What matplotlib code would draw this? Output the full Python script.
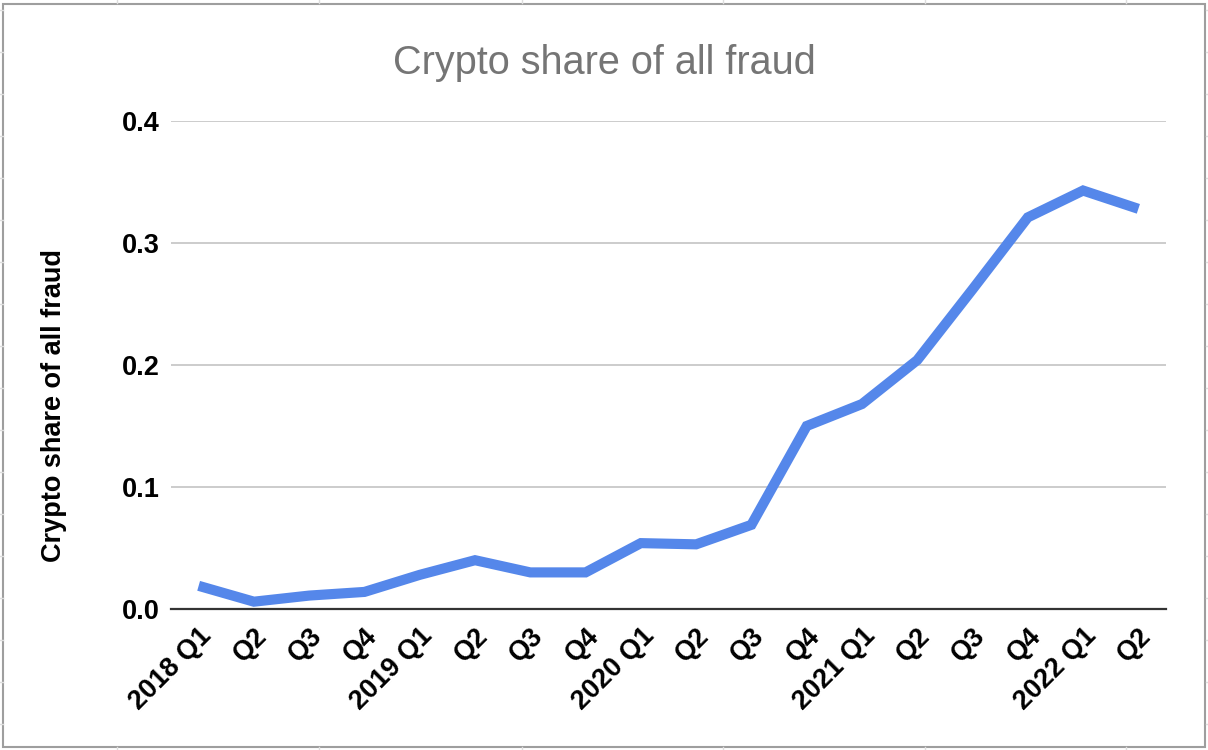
import numpy as np
import matplotlib.pyplot as plt
from matplotlib.patches import Rectangle
from matplotlib.lines import Line2D

plt.rcParams['font.family'] = ['Liberation Sans', 'DejaVu Sans']

quarters = ["2018 Q1", "Q2", "Q3", "Q4",
            "2019 Q1", "Q2", "Q3", "Q4",
            "2020 Q1", "Q2", "Q3", "Q4",
            "2021 Q1", "Q2", "Q3", "Q4",
            "2022 Q1", "Q2"]
crypto_share = [0.019, 0.006, 0.011, 0.014,
                0.028, 0.040, 0.030, 0.030,
                0.054, 0.053, 0.069, 0.150,
                0.168, 0.204, 0.262, 0.321,
                0.343, 0.328]
y_ticks = [0.0, 0.1, 0.2, 0.3, 0.4]

W, H = 1208, 750
fig = plt.figure(figsize=(W / 100, H / 100), dpi=100)
ax = fig.add_axes([171 / W, 1 - 609 / H, 995 / W, 488 / H])

x = np.arange(len(quarters))
ax.plot(x, crypto_share, color='#5587ea', lw=7.3, solid_joinstyle='miter',
        solid_capstyle='butt', zorder=3)

ax.set_xlim(-0.5, len(quarters) - 0.5)
ax.set_ylim(0, 0.4)
ax.set_yticks(y_ticks)
ax.set_yticklabels([f"{v:.1f}" for v in y_ticks], fontsize=19.5, fontweight='bold')
ax.set_xticks(x)
ax.set_xticklabels(quarters, fontsize=19.5, fontweight='bold', rotation=45,
                   ha='right', va='top', rotation_mode='anchor')
ax.tick_params(axis='both', length=0)
ax.tick_params(axis='y', pad=8)
ax.tick_params(axis='x', pad=10)

ax.yaxis.grid(True, color='#cccccc', lw=1.4)
ax.set_axisbelow(True)
for s in ['top', 'right', 'left']:
    ax.spines[s].set_visible(False)
ax.spines['bottom'].set_color('#333333')
ax.spines['bottom'].set_linewidth(1.6)
ax.spines['bottom'].set_zorder(2)

ax.set_ylabel("Crypto share of all fraud", fontsize=19.5, fontweight='bold', labelpad=0)
ax.yaxis.set_label_coords(-(171 - 67) / 995, (609 - 405) / 488)

fig.text(0.5, 1 - 63 / H, "Crypto share of all fraud", fontsize=28.5,
         color='#757575', ha='center', va='center')

# faint spreadsheet cell lines peeking out around the chart
for cx in [117, 319, 522, 723, 925, 1126]:
    fig.add_artist(Line2D([cx / W, cx / W], [1 - 3 / H, 1], color='#dddddd', lw=1))
    fig.add_artist(Line2D([cx / W, cx / W], [0, 3 / H], color='#dddddd', lw=1))
for ry in range(10, 750, 42):
    fig.add_artist(Line2D([0, 3 / W], [1 - ry / H, 1 - ry / H], color='#dddddd', lw=1))
    fig.add_artist(Line2D([1 - 2 / W, 1], [1 - ry / H, 1 - ry / H], color='#dddddd', lw=1))

# outer chart frame
fig.add_artist(Rectangle((3 / W, 3.5 / H), 1202 / W, 743 / H,
                         transform=fig.transFigure, fill=False,
                         edgecolor='#9e9e9e', lw=1.5))

fig.savefig('out.png', dpi=100)
